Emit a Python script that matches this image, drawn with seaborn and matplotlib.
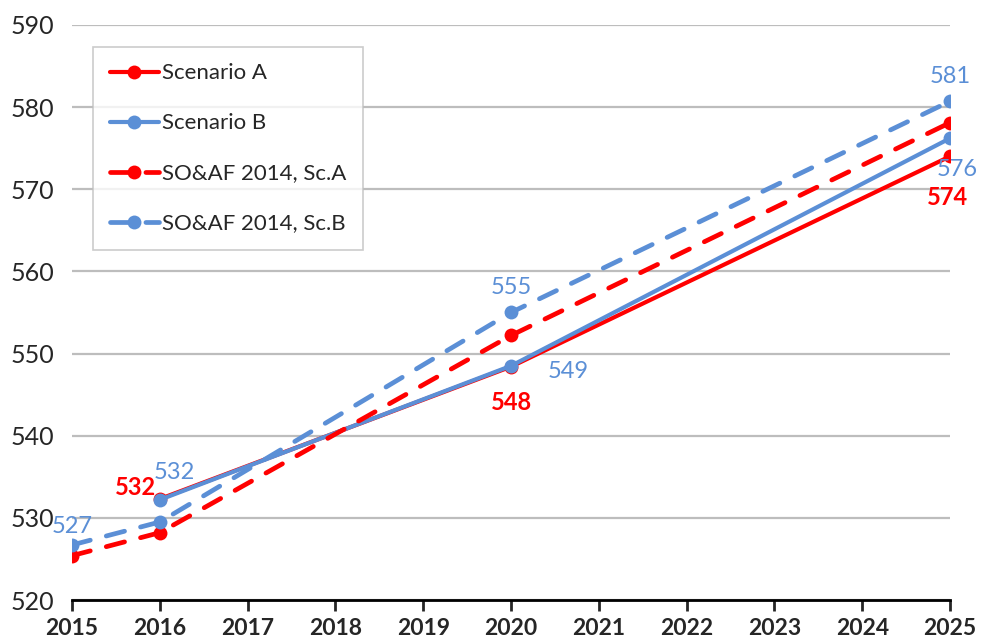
import matplotlib
matplotlib.use("Agg")
import matplotlib.pyplot as plt
import seaborn as sns
import pandas as pd

# data
years_main = [2016, 2020, 2025]
scen_a = [532.3, 548.4, 574.0]
scen_b = [532.2, 548.5, 576.2]

years_old = [2015, 2016, 2020, 2025]
soaf_a = [525.4, 528.2, 552.2, 578.1]
soaf_b = [526.7, 529.5, 555.0, 580.7]

series_names = ["Scenario A", "Scenario B", "SO&AF 2014, Sc.A", "SO&AF 2014, Sc.B"]

RED = "#FF0000"
BLUE = "#5B8FD6"

sns.set_style("white")
plt.rcParams["font.family"] = ["Lato", "DejaVu Sans"]

fig = plt.figure(figsize=(9.81, 6.39), dpi=100)
ax = fig.add_axes([0.0734, 0.061, 0.8950, 0.900])

dash = (0, (4.0, 3.5))
styles = [
    (years_main, scen_a, RED, "-", 3.0),
    (years_main, scen_b, BLUE, "-", 3.0),
    (years_old, soaf_a, RED, dash, 3.4),
    (years_old, soaf_b, BLUE, dash, 3.4),
]
for name, (xs, ys, col, ls, lw) in zip(series_names, styles):
    df = pd.DataFrame({"year": xs, "value": ys})
    sns.lineplot(data=df, x="year", y="value", ax=ax, color=col, linestyle=ls,
                 linewidth=lw, marker="o", markersize=10, markeredgewidth=0,
                 dash_capstyle="round", label=name)

# data labels
fs = 17
lbl = dict(fontsize=fs, ha="center", va="center")
ax.text(2015.0, 528.9, "527", color=BLUE, **lbl)
ax.text(2015.72, 533.7, "532", color=RED, fontweight="bold", **lbl)
ax.text(2016.17, 535.5, "532", color=BLUE, **lbl)
ax.text(2020.0, 558.1, "555", color=BLUE, **lbl)
ax.text(2020.0, 544.1, "548", color=RED, fontweight="bold", **lbl)
ax.text(2020.65, 547.8, "549", color=BLUE, **lbl)
ax.text(2025.0, 583.7, "581", color=BLUE, **lbl)
ax.text(2025.08, 572.4, "576", color=BLUE, **lbl)
ax.text(2024.97, 569.0, "574", color=RED, fontweight="bold", **lbl)

ax.set_xlim(2015, 2025)
ax.set_ylim(520, 590)
ax.set_xticks(range(2015, 2026))
ax.set_yticks(range(520, 591, 10))
ax.set_xlabel("")
ax.set_ylabel("")
for t in ax.get_xticklabels():
    t.set_fontweight("bold")
ax.tick_params(axis="x", labelsize=16.5, direction="out", length=8, width=2,
               bottom=True, pad=5)
ax.tick_params(axis="y", labelsize=18, length=0, pad=13)
ax.yaxis.grid(True, color="#BDBDBD", linewidth=1.6)
ax.set_axisbelow(True)
for s in ["top", "right", "left"]:
    ax.spines[s].set_visible(False)
ax.spines["bottom"].set_color("black")
ax.spines["bottom"].set_linewidth(2)

leg = ax.legend(loc="upper left", bbox_to_anchor=(0.024, 0.962), fontsize=16,
                frameon=True, fancybox=False, edgecolor="#BFBFBF",
                handlelength=2.2, labelspacing=1.35, borderpad=0.75,
                handletextpad=0.15, borderaxespad=0)
leg.get_frame().set_linewidth(1.2)

fig.savefig("out.png", dpi=100)
